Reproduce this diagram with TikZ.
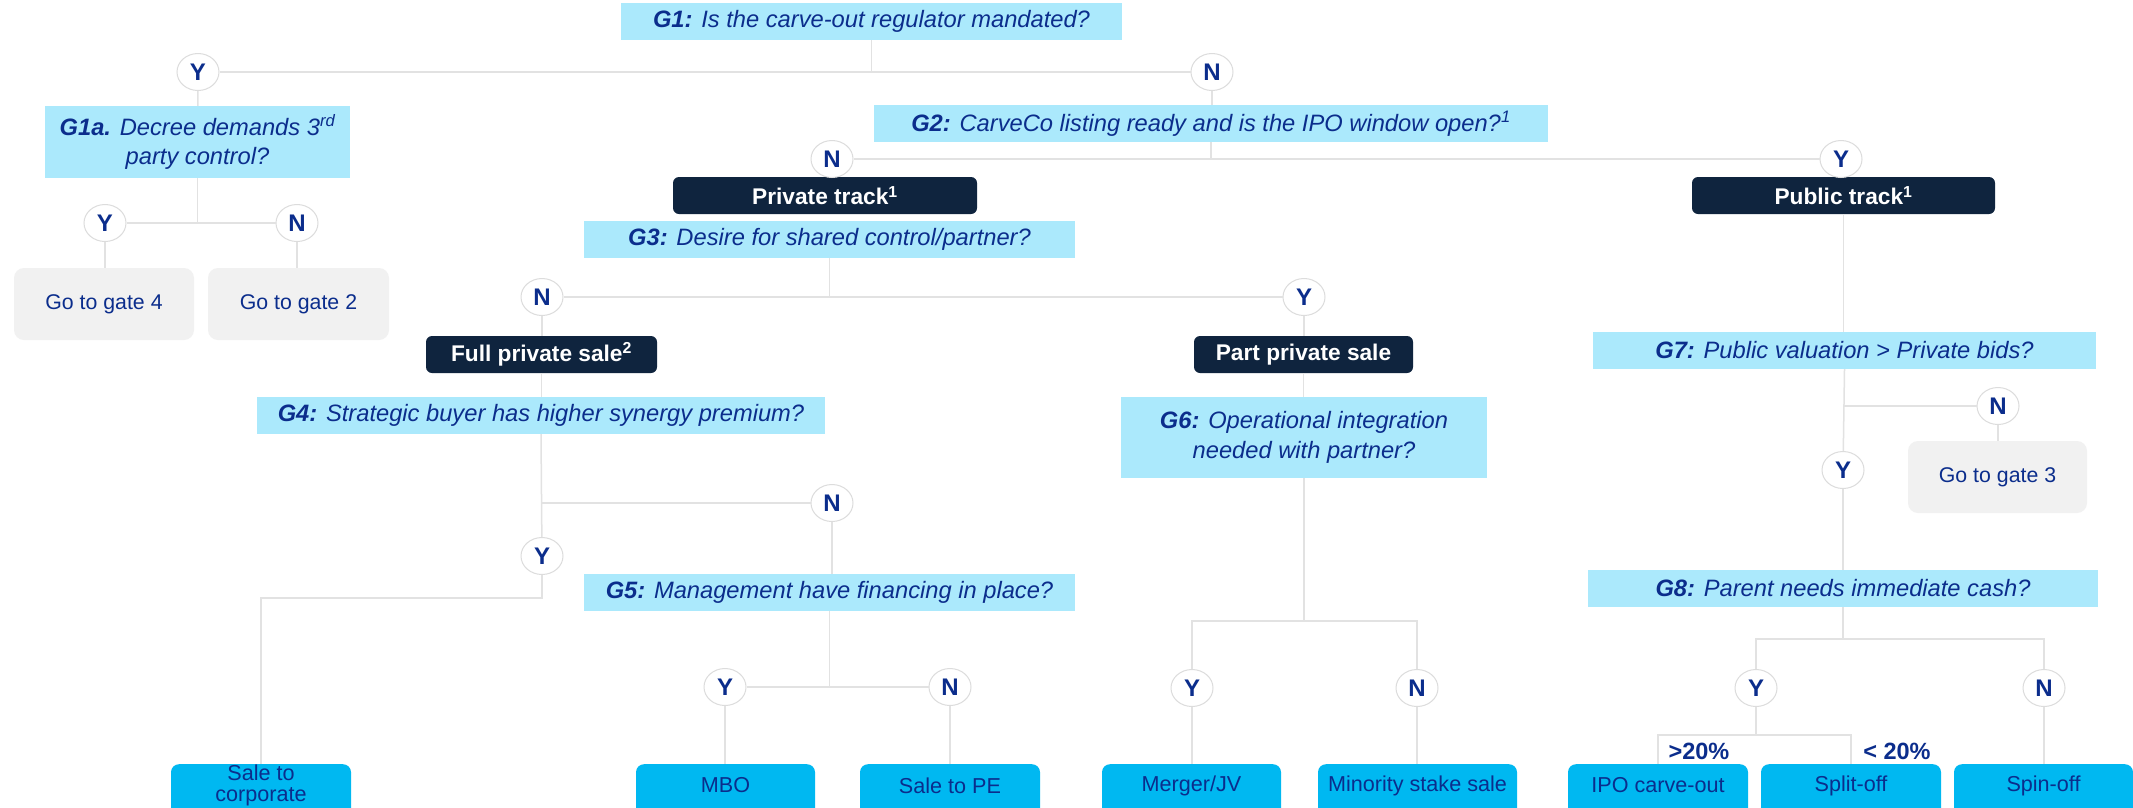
\documentclass[tikz,border=0pt]{standalone}
\usepackage{fontspec}
\setmainfont{Liberation Sans}
\usetikzlibrary{shapes.geometric}
\definecolor{cNavy}{HTML}{0B2D8C}
\definecolor{cLBlue}{HTML}{ABE9FC}
\definecolor{cDark}{HTML}{0F243E}
\definecolor{cLeaf}{HTML}{00B8F1}
\definecolor{cGray}{HTML}{F1F1F1}
\definecolor{cLine}{HTML}{E2E2E2}
\definecolor{cRing}{HTML}{DCDCDC}
\tikzset{
 gate/.style={fill=cLBlue, text=cNavy, inner sep=0pt, align=center, font=\itshape\fontsize{23.7}{29.5}\selectfont},
 track/.style={fill=cDark, text=white, rounded corners=6pt, inner sep=0pt, minimum height=37pt, font=\bfseries\fontsize{22.7}{26}\selectfont},
 yn/.style={ellipse, draw=cRing, line width=1pt, fill=white, text=cNavy, inner sep=0pt, minimum width=42pt, minimum height=37pt, font=\bfseries\fontsize{24}{26}\selectfont},
 goto/.style={fill=cGray, rounded corners=10pt, text=cNavy, inner sep=0pt, minimum height=72pt, font=\fontsize{21.3}{24}\selectfont},
 leaf/.style={fill=cLeaf, rounded corners=8pt, anchor=north, inner sep=0pt, minimum height=70pt},
 leaftext/.style={text=cNavy, align=center, inner sep=0pt, font=\fontsize{21.6}{21}\selectfont},
 conn/.style={draw=cLine, line width=1.5pt},
 pct/.style={text=cNavy, inner sep=0pt, font=\bfseries\fontsize{23.5}{26}\selectfont},
}
\begin{document}
\begin{tikzpicture}[x=1pt,y=-1pt]
\useasboundingbox[fill=white] (0,0) rectangle (2133,807);
% gates
\node[gate, minimum width=501pt, minimum height=37pt] (g1) at (871.5,21.5) {\textbf{G1:} Is the carve-out regulator mandated?};
\node[gate, minimum width=305pt, minimum height=72pt] (g1a) at (197.5,142) {\textbf{G1a.} Decree demands 3\textsuperscript{rd}\\party control?};
\node[gate, minimum width=674pt, minimum height=37pt] (g2) at (1211,123.5) {\textbf{G2:} CarveCo listing ready and is the IPO window open?\textsuperscript{1}};
\node[gate, minimum width=491pt, minimum height=37pt] (g3) at (829.5,239.5) {\textbf{G3:} Desire for shared control/partner?};
\node[gate, minimum width=568pt, minimum height=37pt] (g4) at (541,415.5) {\textbf{G4:} Strategic buyer has higher synergy premium?};
\node[gate, minimum width=491pt, minimum height=37pt] (g5) at (829.5,592.5) {\textbf{G5:} Management have financing in place?};
\node[gate, minimum width=366pt, minimum height=81pt] (g6) at (1304,437.5) {\textbf{G6:} Operational integration\\needed with partner?};
\node[gate, minimum width=503pt, minimum height=37pt] (g7) at (1844.5,350.5) {\textbf{G7:} Public valuation > Private bids?};
\node[gate, minimum width=510pt, minimum height=37pt] (g8) at (1843,588.5) {\textbf{G8:} Parent needs immediate cash?};
% tracks
\node[track, minimum width=304pt] (priv) at (825,195.5) {Private track\textsuperscript{1}};
\node[track, minimum width=303pt] (pub) at (1843.5,195.5) {Public track\textsuperscript{1}};
\node[track, minimum width=231pt] (full) at (541.5,354.5) {Full private sale\textsuperscript{2}};
\node[track, minimum width=219pt] (part) at (1303.5,354.5) {Part private sale};
% go to gate
\node[goto, minimum width=180pt] (gate4) at (104,304) {Go to gate 4};
\node[goto, minimum width=181pt] (gate2) at (298.5,304) {Go to gate 2};
\node[goto, minimum width=179pt] (gate3) at (1997.5,477) {Go to gate 3};
% Y/N
\node[yn] (c1y) at (198,72) {Y};
\node[yn] (c1n) at (1212,72) {N};
\node[yn] (c1ay) at (105,223) {Y};
\node[yn] (c1an) at (297,223) {N};
\node[yn] (c2n) at (832,159) {N};
\node[yn] (c2y) at (1841,159) {Y};
\node[yn] (c3n) at (542,297) {N};
\node[yn] (c3y) at (1304,297) {Y};
\node[yn] (c4n) at (832,503) {N};
\node[yn] (c4y) at (542,556) {Y};
\node[yn] (c5y) at (725,687) {Y};
\node[yn] (c5n) at (950,687) {N};
\node[yn] (c6y) at (1192,688) {Y};
\node[yn] (c6n) at (1417,688) {N};
\node[yn] (c7n) at (1998,406) {N};
\node[yn] (c7y) at (1843,470) {Y};
\node[yn] (c8y) at (1756,688) {Y};
\node[yn] (c8n) at (2044,688) {N};
% leaves
\node[leaf, minimum width=180pt] (corp) at (261,764) {};
\node[leaftext] (corpt) at (261,785.5) {Sale to\\corporate};
\node[leaf, minimum width=179pt] (mbo) at (725.5,764) {};
\node[leaftext] (mbot) at (725.5,785.5) {MBO};
\node[leaf, minimum width=180pt] (pe) at (950,764) {};
\node[leaftext] (pet) at (950,785.5) {Sale to PE};
\node[leaf, minimum width=179pt] (merger) at (1191.5,764) {};
\node[leaftext] (mergert) at (1191.5,785.5) {Merger/JV};
\node[leaf, minimum width=199pt] (minor) at (1417.5,764) {};
\node[leaftext] (minort) at (1417.5,785.5) {Minority stake sale};
\node[leaf, minimum width=180pt] (ipo) at (1658,764) {};
\node[leaftext] (ipot) at (1658,785.5) {IPO carve-out};
\node[leaf, minimum width=180pt] (split) at (1851,764) {};
\node[leaftext] (splitt) at (1851,785.5) {Split-off};
\node[leaf, minimum width=179pt] (spin) at (2043.5,764) {};
\node[leaftext] (spint) at (2043.5,785.5) {Spin-off};
% labels
\node[pct] (gt20) at (1699,751) {>20\%};
\node[pct] (lt20) at (1897,751) {< 20\%};
% junctions
\coordinate (j4) at (542,598);
\coordinate (j6) at (1304,621);
\coordinate (j7) at (1843,406);
\coordinate (j8) at (1843,639);
\coordinate (j8b) at (1756,735);
% connectors
\draw[conn] (g1.south) -- (g1.south |- c1y);
\draw[conn] (c1y) -- (c1n);
\draw[conn] (c1y) -- (g1a);
\draw[conn] (g1a.south) -- (g1a.south |- c1ay);
\draw[conn] (c1ay) -- (c1an);
\draw[conn] (c1ay) -- (c1ay |- gate4.north);
\draw[conn] (c1an) -- (c1an |- gate2.north);
\draw[conn] (c1n) -- (c1n |- g2.north);
\draw[conn] (g2.south) -- (g2.south |- c2n);
\draw[conn] (c2n) -- (c2y);
\draw[conn] (c2n) -- (c2n |- priv.north);
\draw[conn] (c2y) -- (c2y |- pub.north);
\draw[conn] (pub.south) -- (pub.south |- g7.north);
\draw[conn] (g3.south) -- (g3.south |- c3n);
\draw[conn] (c3n) -- (c3y);
\draw[conn] (c3n) -- (c3n |- full.north);
\draw[conn] (c3y) -- (c3y |- part.north);
\draw[conn] (full) -- (full |- g4.north);
\draw[conn] (part) -- (part |- g6.north);
\draw[conn] (g4.south) -- (c4y);
\draw[conn] (g4.south |- c4n) -- (c4n);
\draw[conn] (c4y) -- (j4) -| (corp.north);
\draw[conn] (c4n) -- (c4n |- g5.north);
\draw[conn] (g5.south) -- (g5.south |- c5y);
\draw[conn] (c5y) -- (c5n);
\draw[conn] (c5y) -- (c5y |- mbo.north);
\draw[conn] (c5n) -- (c5n |- pe.north);
\draw[conn] (g6.south) -- (j6);
\draw[conn] (c6y) |- (j6) -| (c6n);
\draw[conn] (c6y) -- (c6y |- merger.north);
\draw[conn] (c6n) -- (c6n |- minor.north);
\draw[conn] (g7.south) -- (c7y);
\draw[conn] (j7) -- (c7n);
\draw[conn] (c7n) -- (c7n |- gate3.north);
\draw[conn] (c7y) -- (c7y |- g8.north);
\draw[conn] (g8.south) -- (j8);
\draw[conn] (c8y) |- (j8) -| (c8n);
\draw[conn] (c8y) -- (j8b);
\draw[conn] (ipo.north) |- (j8b) -| (split.north);
\draw[conn] (c8n) -- (c8n |- spin.north);
\end{tikzpicture}
\end{document}
